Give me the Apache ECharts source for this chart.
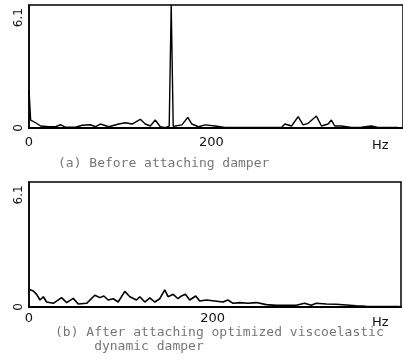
<!DOCTYPE html>
<html>
<head>
<meta charset="utf-8">
<script src="https://cdn.jsdelivr.net/npm/echarts@6/dist/echarts.min.js"></script>
<style>
  html, body { margin: 0; padding: 0; background: #fff; }
  #chart { width: 403px; height: 360px; }
</style>
</head>
<body>
<div id="chart"></div>
<script>
// (a) before attaching damper: frequency (Hz) and amplitude
const freqA = [0, 1.8, 7.3, 12.7, 21.9, 29.1, 34.6, 40.1, 51, 58.3, 67.4, 72.9, 78.3, 87.4, 98.4, 105.7,
  112.9, 122, 127.5, 133, 138.4, 143.9, 149.4, 153.7, 155.9, 158.1, 160.3, 167.6, 174.1, 178.5, 185.8,
  193.1, 204, 215, 240.4, 276.8, 280.5, 287.8, 295.1, 300.5, 306, 315.1, 320.6, 327.9, 331.5, 335.2,
  342.5, 353.4, 364.3, 375.2, 382.5, 404.4];
const ampA = [2.1, 0.44, 0.29, 0.11, 0.07, 0.07, 0.18, 0.04, 0.04, 0.15, 0.18, 0.07, 0.22, 0.07, 0.22, 0.29,
  0.22, 0.48, 0.22, 0.11, 0.44, 0.07, 0.02, 0.1, 6.8, 0.1, 0.11, 0.17, 0.59, 0.22, 0.07,
  0.17, 0.11, 0.03, 0.03, 0.03, 0.22, 0.11, 0.63, 0.17, 0.26, 0.66, 0.11, 0.22, 0.44, 0.11,
  0.11, 0.03, 0.04, 0.11, 0.03, 0.03];

// (b) after attaching optimized viscoelastic dynamic damper
const freqB = [0, 4.7, 8.3, 12, 15.6, 19.2, 26.4, 35.5, 41, 48.2, 53.6, 62.7, 71.7, 77.2, 81.5, 86.2,
  91.7, 97.1, 104.3, 109.8, 117, 120.7, 126.1, 131.5, 137, 142.4, 147.8, 151.4, 156.9, 162.3, 166,
  170.3, 175, 181.5, 185.9, 193.1, 202.2, 211.2, 216.6, 222.1, 229.3, 238.4, 247.5, 258.3, 269.2,
  280.1, 290.9, 300, 307.2, 312.7, 323.6, 334.4, 345.3, 356.2, 367, 385.1, 403.3];
const ampB = [0.96, 0.87, 0.69, 0.38, 0.56, 0.27, 0.2, 0.51, 0.24, 0.47, 0.16, 0.2, 0.64, 0.51, 0.6, 0.38,
  0.45, 0.27, 0.85, 0.56, 0.38, 0.56, 0.27, 0.49, 0.27, 0.45, 0.93, 0.56, 0.69, 0.45, 0.6,
  0.69, 0.38, 0.6, 0.33, 0.38, 0.33, 0.27, 0.38, 0.2, 0.24, 0.2, 0.24, 0.13, 0.09,
  0.09, 0.09, 0.2, 0.09, 0.2, 0.16, 0.15, 0.11, 0.07, 0.04, 0.02, 0.02];

const xTicks = [0, 200];
const yTicks = [0, 6.1];

const pairs = (xs, ys) => xs.map((x, i) => [x, ys[i]]);

const axisFont = { color: "#111", fontFamily: "DejaVu Sans", fontSize: 13 };

function xAxisFor(gridIndex, max, margin, gap, pad) {
  return {
    type: "value",
    gridIndex,
    min: 0,
    max,
    splitLine: { show: false },
    axisTick: { show: false },
    axisLine: { show: true, onZero: false, lineStyle: { color: "#000", width: 2 } },
    axisLabel: { ...axisFont, customValues: xTicks, margin },
    name: "Hz",
    nameLocation: "end",
    nameGap: gap,
    nameTextStyle: { ...axisFont, verticalAlign: "top", padding: [pad, 0, 0, 0] },
  };
}

function yAxisFor(gridIndex) {
  return {
    type: "value",
    gridIndex,
    min: 0,
    max: 6.8,
    splitLine: { show: false },
    axisTick: { show: false },
    axisLine: { show: true, lineStyle: { color: "#000", width: 1.5 } },
    axisLabel: { ...axisFont, fontSize: 12, rotate: 90, customValues: yTicks, margin: 4 },
  };
}

const option = {
  animation: false,
  backgroundColor: "#fff",
  grid: [
    { left: 29, top: 5, width: 375, height: 123, show: true, borderColor: "#000", borderWidth: 1.5 },
    { left: 29, top: 182, width: 372, height: 125, show: true, borderColor: "#000", borderWidth: 1.5 },
  ],
  xAxis: [xAxisFor(0, 410, 8, -31, 11), xAxisFor(1, 405, 5, -29, 9)],
  yAxis: [yAxisFor(0), yAxisFor(1)],
  title: [
    {
      text: "(a) Before attaching damper",
      left: 58,
      top: 157,
      padding: 0,
      textStyle: { fontFamily: "DejaVu Sans Mono", fontSize: 13, fontWeight: "normal", color: "#777" },
    },
    {
      text: "(b) After attaching optimized viscoelastic\n     dynamic damper",
      left: 55,
      top: 326,
      padding: 0,
      textStyle: { fontFamily: "DejaVu Sans Mono", fontSize: 13, fontWeight: "normal", color: "#777", lineHeight: 14 },
    },
  ],
  series: [
    {
      type: "line",
      xAxisIndex: 0,
      yAxisIndex: 0,
      data: pairs(freqA, ampA),
      showSymbol: false,
      lineStyle: { color: "#000", width: 1.4 },
    },
    {
      type: "line",
      xAxisIndex: 1,
      yAxisIndex: 1,
      data: pairs(freqB, ampB),
      showSymbol: false,
      lineStyle: { color: "#000", width: 1.6 },
    },
  ],
};

echarts.init(document.getElementById("chart")).setOption(option);
</script>
</body>
</html>
